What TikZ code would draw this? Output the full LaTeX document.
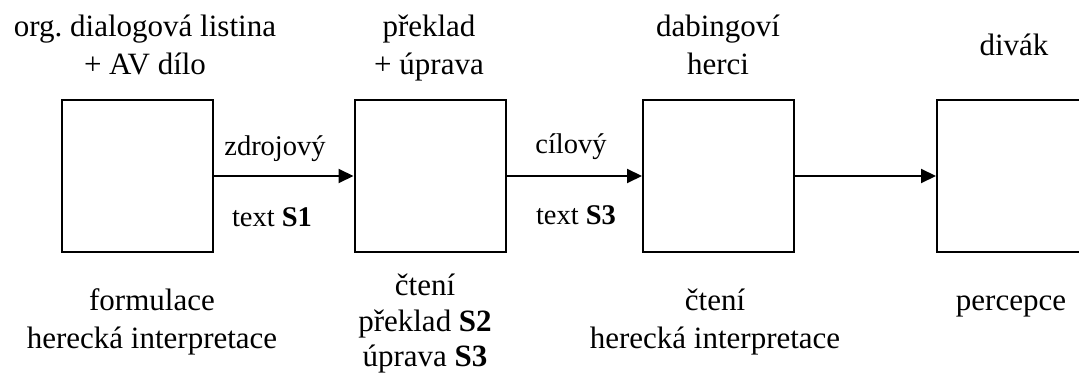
\documentclass[tikz,border=0pt]{standalone}
\usepackage{fontspec}
\setmainfont{Liberation Serif}
\usetikzlibrary{arrows.meta}
\frenchspacing
\begin{document}
\begin{tikzpicture}[x=1pt,y=-1pt,
  stagebox/.style={draw,line width=2pt,minimum width=151pt,minimum height=152pt,inner sep=0pt},
  flow/.style={line width=2pt,-{Triangle[length=15pt,width=14pt]}},
  big/.style={font=\fontsize{31}{37}\selectfont,inner sep=0pt,anchor=base},
  small/.style={font=\fontsize{28.5}{34}\selectfont,inner sep=0pt,anchor=base}]
\clip (0,0) rectangle (1079,374);
\fill[white] (0,0) rectangle (1079,374);
% boxes
\node[stagebox] (b1) at (137.5,176) {};
\node[stagebox] (b2) at (430,176) {};
\node[stagebox] (b3) at (718.5,176) {};
\node[stagebox] (b4) at (1012.5,176) {};
% arrows
\draw[flow] (b1.east) -- (b2.west);
\draw[flow] (b2.east) -- (b3.west);
\draw[flow] (b3.east) -- (b4.west);
% titles
\node[big] (t1a) at (145,37) {org.\ dialogová listina};
\node[big] (t1b) at (145,75) {+ AV dílo};
\node[big] (t2a) at (429,37) {překlad};
\node[big] (t2b) at (429,75) {+ úprava};
\node[big] (t3a) at (718,37) {dabingoví};
\node[big] (t3b) at (718,75) {herci};
\node[big] (t4) at (1014,56) {divák};
% arrow labels
\node[small] (l1a) at (275,156) {zdrojový};
\node[small] (l1b) at (272,226) {text \textbf{S1}};
\node[small] (l2a) at (571,154) {cílový};
\node[small] (l2b) at (576,225) {text \textbf{S3}};
% bottom texts
\node[big] (u1a) at (152,310) {formulace};
\node[big] (u1b) at (152,348) {herecká interpretace};
\node[big] (u2a) at (425,295) {čtení};
\node[big] (u2b) at (425,331) {překlad \textbf{S2}};
\node[big] (u2c) at (425,366) {úprava \textbf{S3}};
\node[big] (u3a) at (715,310) {čtení};
\node[big] (u3b) at (715,348) {herecká interpretace};
\node[big] (u4) at (1011,310) {percepce};
\end{tikzpicture}
\end{document}
